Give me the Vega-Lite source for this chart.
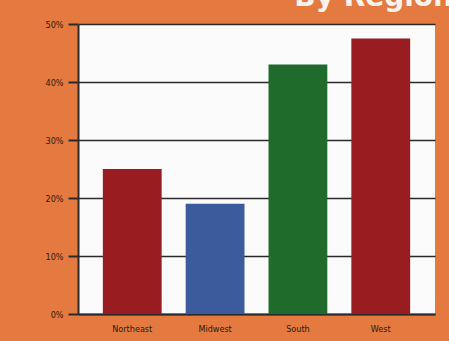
{
  "$schema": "https://vega.github.io/schema/vega-lite/v6.json",
  "width": 357,
  "height": 290,
  "autosize": {"type": "none"},
  "padding": {"left": 78, "top": 24, "right": 14, "bottom": 27},
  "background": "#e47a40",
  "title": {
    "text": "By Region",
    "anchor": "end",
    "color": "#fbf3ec",
    "font": "DejaVu Sans",
    "fontSize": 28,
    "fontWeight": "bold",
    "baseline": "alphabetic",
    "offset": 10,
    "dx": 18,
    "dy": 24
  },
  "data": {
    "values": [
      {"region": "Northeast", "share": 0.25},
      {"region": "Midwest", "share": 0.19},
      {"region": "South", "share": 0.43},
      {"region": "West", "share": 0.475}
    ]
  },
  "mark": {"type": "bar"},
  "encoding": {
    "x": {
      "field": "region",
      "type": "nominal",
      "sort": null,
      "scale": {"paddingInner": 0.29, "paddingOuter": 0.3},
      "axis": {
        "title": null,
        "labelAngle": 0,
        "ticks": false,
        "labelPadding": 10,
        "labelFont": "DejaVu Sans Condensed",
        "labelFontSize": 9,
        "labelColor": "#2a1a10",
        "domainColor": "#2a2a2a",
        "domainWidth": 2
      }
    },
    "y": {
      "field": "share",
      "type": "quantitative",
      "scale": {"domain": [0, 0.5]},
      "axis": {
        "title": null,
        "format": ".0%",
        "values": [0, 0.1, 0.2, 0.3, 0.4, 0.5],
        "tickSize": 10,
        "tickWidth": 2,
        "tickColor": "#2a2a2a",
        "labelPadding": 5,
        "labelFont": "DejaVu Sans Condensed",
        "labelFontSize": 9,
        "labelColor": "#2a1a10",
        "domainColor": "#2a2a2a",
        "domainWidth": 2,
        "grid": true,
        "gridColor": "#2a2a2a",
        "gridWidth": 1.5,
        "gridOpacity": 1
      }
    },
    "color": {
      "field": "region",
      "type": "nominal",
      "scale": {
        "domain": ["Northeast", "Midwest", "South", "West"],
        "range": ["#981c20", "#3b5b9d", "#1f6b2b", "#981c20"]
      },
      "legend": null
    }
  },
  "config": {
    "view": {"fill": "#fbfbfb", "stroke": null}
  }
}
